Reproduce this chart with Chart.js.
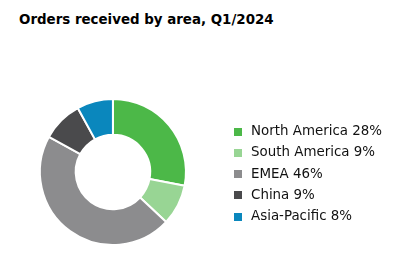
<!DOCTYPE html>
<html>
<head>
<meta charset="utf-8">
<script src="https://cdn.jsdelivr.net/npm/chart.js@4"></script>
<style>
  html, body { margin: 0; padding: 0; background: #fff; }
  #wrap { position: relative; width: 416px; height: 268px; }
  #title {
    position: absolute; left: 19px; top: 12px;
    font: bold 13.4px "DejaVu Sans", Verdana, sans-serif; line-height: 16px;
    color: #000; white-space: nowrap;
  }
  canvas { position: absolute; left: 0; top: 0; }
</style>
</head>
<body>
<div id="wrap">
  <div id="title">Orders received by area, Q1/2024</div>
  <canvas id="myChart" width="416" height="268"></canvas>
</div>
<script>
const areas = ['North America', 'South America', 'EMEA', 'China', 'Asia-Pacific'];
const shares = [28, 9, 46, 9, 8];
const areaColors = ['#4cb848', '#98d594', '#8c8c8e', '#4a4a4c', '#0a87bd'];

const fontSize = 13.4;
const pad = 7.85;
const boxW = 13;
const legendFont = {family: '"DejaVu Sans", Verdana, sans-serif', size: fontSize};

// small square swatch used as the legend marker
function swatch(color) {
    const c = document.createElement('canvas');
    c.width = 8;
    c.height = 8;
    const g = c.getContext('2d');
    g.fillStyle = color;
    g.fillRect(0, 0, 8, 8);
    return c;
}

const labelTexts = areas.map((a, i) => a + ' ' + shares[i] + '%');

// measure the widest label so the legend lands where it should
const m = document.createElement('canvas').getContext('2d');
m.font = fontSize + 'px "DejaVu Sans", Verdana, sans-serif';
const maxText = Math.max(...labelTexts.map(t => m.measureText(t).width));
const legendLeft = 225.65;
const rightPad = 416 - legendLeft - 2 * pad - (boxW + fontSize / 2 + maxText);

const ctx = document.getElementById('myChart');
const myChart = new Chart(ctx, {
    type: 'doughnut',
    data: {
        labels: areas,
        datasets: [{
            data: shares,
            backgroundColor: areaColors,
            borderColor: '#ffffff',
            borderWidth: 2,
            radius: 73,
            cutout: '51%'
        }]
    },
    options: {
        responsive: false,
        animation: false,
        layout: {
            padding: {left: 2.35, right: rightPad, top: 99, bottom: 23}
        },
        plugins: {
            tooltip: {enabled: false},
            legend: {
                position: 'right',
                title: {display: true, text: '', font: {size: 1, lineHeight: 1}, padding: {top: 3.4, bottom: 0}},
                labels: {
                    usePointStyle: true,
                    boxWidth: boxW,
                    boxHeight: boxW,
                    padding: pad,
                    color: '#111',
                    font: legendFont,
                    generateLabels: chart => labelTexts.map((t, i) => ({
                        text: t,
                        fillStyle: areaColors[i],
                        strokeStyle: areaColors[i],
                        fontColor: '#111',
                        lineWidth: 0,
                        pointStyle: swatch(areaColors[i]),
                        hidden: false,
                        index: i
                    }))
                }
            }
        }
    }
});
</script>
</body>
</html>
